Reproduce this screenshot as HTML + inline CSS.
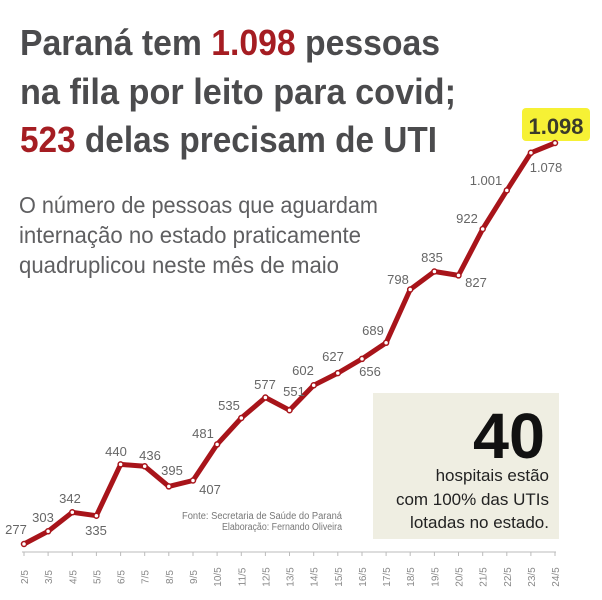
<!DOCTYPE html>
<html><head><meta charset="utf-8"><style>
html,body{margin:0;padding:0;background:#fff;}
svg{display:block;}
</style></head><body>
<svg width="602" height="600" viewBox="0 0 602 600" xmlns="http://www.w3.org/2000/svg">
<g font-family="Liberation Sans, sans-serif" font-weight="bold" font-size="36" fill="#4b4b4d">
<text x="20" y="55" textLength="420" lengthAdjust="spacingAndGlyphs">Paraná tem <tspan fill="#a51d22">1.098</tspan> pessoas</text>
<text x="20" y="104" textLength="436" lengthAdjust="spacingAndGlyphs">na fila por leito para covid;</text>
<text x="20" y="152" textLength="417" lengthAdjust="spacingAndGlyphs"><tspan fill="#a51d22">523</tspan> delas precisam de UTI</text>
</g>
<g font-family="Liberation Sans, sans-serif" font-size="23" fill="#5f5f61">
<text x="19" y="213" textLength="359" lengthAdjust="spacingAndGlyphs">O número de pessoas que aguardam</text>
<text x="19" y="243" textLength="342" lengthAdjust="spacingAndGlyphs">internação no estado praticamente</text>
<text x="19" y="273" textLength="320" lengthAdjust="spacingAndGlyphs">quadruplicou neste mês de maio</text>
</g>
<rect x="373" y="393" width="186" height="146" fill="#efeee2"/>
<text x="545" y="458" text-anchor="end" font-family="Liberation Sans, sans-serif" font-weight="bold" font-size="64" fill="#111" textLength="72" lengthAdjust="spacingAndGlyphs">40</text>
<g font-family="Liberation Sans, sans-serif" font-size="17" fill="#222" text-anchor="end">
<text x="549" y="481">hospitais estão</text>
<text x="549" y="505">com 100% das UTIs</text>
<text x="549" y="528">lotadas no estado.</text>
</g>
<g font-family="Liberation Sans, sans-serif" font-size="10" fill="#777" text-anchor="end">
<text x="342" y="519" textLength="160" lengthAdjust="spacingAndGlyphs">Fonte: Secretaria de Saúde do Paraná</text>
<text x="342" y="530" textLength="120" lengthAdjust="spacingAndGlyphs">Elaboração: Fernando Oliveira</text>
</g>
<line x1="22" y1="552" x2="556" y2="552" stroke="#bbb" stroke-width="1"/>
<g stroke="#bbb" stroke-width="1">
<path d="M24 552v4M48.1 552v4M72.3 552v4M96.4 552v4M120.6 552v4M144.7 552v4M168.8 552v4M193 552v4M217.1 552v4M241.3 552v4M265.4 552v4M289.5 552v4M313.7 552v4M337.8 552v4M362 552v4M386.1 552v4M410.2 552v4M434.4 552v4M458.5 552v4M482.7 552v4M506.8 552v4M530.9 552v4M555 552v4"/>
</g>
<g font-family="Liberation Sans, sans-serif" font-size="10" fill="#888" text-anchor="middle">
<text transform="translate(28,577) rotate(-90)">2/5</text>
<text transform="translate(52.1,577) rotate(-90)">3/5</text>
<text transform="translate(76.3,577) rotate(-90)">4/5</text>
<text transform="translate(100.4,577) rotate(-90)">5/5</text>
<text transform="translate(124.6,577) rotate(-90)">6/5</text>
<text transform="translate(148.7,577) rotate(-90)">7/5</text>
<text transform="translate(172.8,577) rotate(-90)">8/5</text>
<text transform="translate(197,577) rotate(-90)">9/5</text>
<text transform="translate(221.1,577) rotate(-90)">10/5</text>
<text transform="translate(245.3,577) rotate(-90)">11/5</text>
<text transform="translate(269.4,577) rotate(-90)">12/5</text>
<text transform="translate(293.5,577) rotate(-90)">13/5</text>
<text transform="translate(317.7,577) rotate(-90)">14/5</text>
<text transform="translate(341.8,577) rotate(-90)">15/5</text>
<text transform="translate(366,577) rotate(-90)">16/5</text>
<text transform="translate(390.1,577) rotate(-90)">17/5</text>
<text transform="translate(414.2,577) rotate(-90)">18/5</text>
<text transform="translate(438.4,577) rotate(-90)">19/5</text>
<text transform="translate(462.5,577) rotate(-90)">20/5</text>
<text transform="translate(486.7,577) rotate(-90)">21/5</text>
<text transform="translate(510.8,577) rotate(-90)">22/5</text>
<text transform="translate(534.9,577) rotate(-90)">23/5</text>
<text transform="translate(559,577) rotate(-90)">24/5</text>
</g>
<rect x="522" y="108" width="68" height="33" rx="4" fill="#f6f135"/>
<text x="556" y="134" text-anchor="middle" font-family="Liberation Sans, sans-serif" font-weight="bold" font-size="22" fill="#3a3a2a">1.098</text>
<polyline fill="none" stroke="#a8141a" stroke-width="5" stroke-linejoin="round" points="24,544 48.1,531.3 72.3,512.3 96.4,515.7 120.6,464.4 144.7,466.3 168.8,486.4 193,480.5 217.1,444.4 241.3,418 265.4,397.5 289.5,410.2 313.7,385.3 337.8,373.1 362,358.9 386.1,342.8 410.2,289.5 434.4,271.5 458.5,275.4 482.7,229 506.8,190.4 530.9,152.8 555,143"/>
<g fill="#fff" stroke="#a8141a" stroke-width="1.5">
<circle cx="24" cy="544" r="2.5"/><circle cx="48.1" cy="531.3" r="2.5"/><circle cx="72.3" cy="512.3" r="2.5"/><circle cx="96.4" cy="515.7" r="2.5"/><circle cx="120.6" cy="464.4" r="2.5"/><circle cx="144.7" cy="466.3" r="2.5"/><circle cx="168.8" cy="486.4" r="2.5"/><circle cx="193" cy="480.5" r="2.5"/><circle cx="217.1" cy="444.4" r="2.5"/><circle cx="241.3" cy="418" r="2.5"/><circle cx="265.4" cy="397.5" r="2.5"/><circle cx="289.5" cy="410.2" r="2.5"/><circle cx="313.7" cy="385.3" r="2.5"/><circle cx="337.8" cy="373.1" r="2.5"/><circle cx="362" cy="358.9" r="2.5"/><circle cx="386.1" cy="342.8" r="2.5"/><circle cx="410.2" cy="289.5" r="2.5"/><circle cx="434.4" cy="271.5" r="2.5"/><circle cx="458.5" cy="275.4" r="2.5"/><circle cx="482.7" cy="229" r="2.5"/><circle cx="506.8" cy="190.4" r="2.5"/><circle cx="530.9" cy="152.8" r="2.5"/><circle cx="555" cy="143" r="2.5"/>
</g>
<g font-family="Liberation Sans, sans-serif" font-size="13" fill="#666" text-anchor="middle">
<text x="16" y="534">277</text>
<text x="43" y="522">303</text>
<text x="70" y="503">342</text>
<text x="96" y="535">335</text>
<text x="116" y="456">440</text>
<text x="150" y="460">436</text>
<text x="172" y="475">395</text>
<text x="210" y="494">407</text>
<text x="203" y="438">481</text>
<text x="229" y="410">535</text>
<text x="265" y="389">577</text>
<text x="294" y="396">551</text>
<text x="303" y="375">602</text>
<text x="333" y="361">627</text>
<text x="370" y="376">656</text>
<text x="373" y="335">689</text>
<text x="398" y="284">798</text>
<text x="432" y="262">835</text>
<text x="476" y="287">827</text>
<text x="467" y="223">922</text>
<text x="486" y="185">1.001</text>
<text x="546" y="172">1.078</text>
</g>
</svg>
</body></html>
